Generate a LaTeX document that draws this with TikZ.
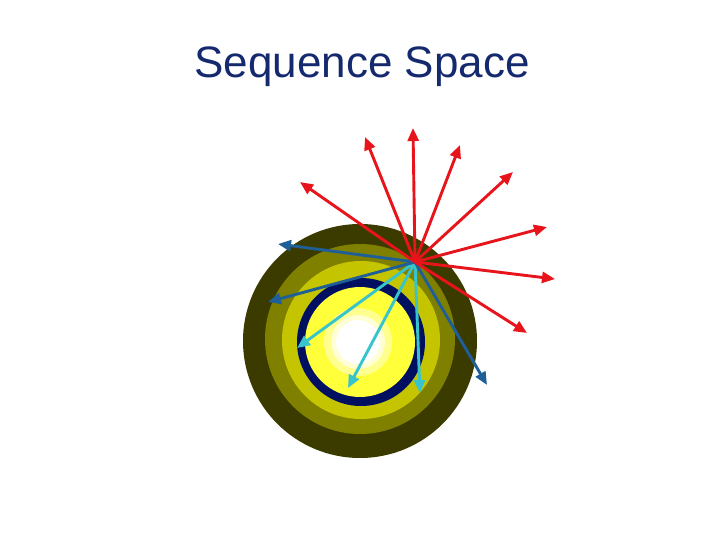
\documentclass[tikz,border=0pt]{standalone}
\usepackage{fontspec}
\setmainfont{Liberation Sans}
\usetikzlibrary{arrows.meta}

\definecolor{darkolive}{HTML}{3B3B00}
\definecolor{olive}{HTML}{808000}
\definecolor{midyellow}{HTML}{C4C400}
\definecolor{ringnavy}{HTML}{001060}
\definecolor{brightyellow}{HTML}{FFFF3A}
\definecolor{paleyellow}{HTML}{FFFF90}
\definecolor{arrowred}{HTML}{E8141C}
\definecolor{arrowblue}{HTML}{1F5F98}
\definecolor{arrowcyan}{HTML}{38C4CC}
\definecolor{titlenavy}{HTML}{14296E}

\tikzset{
  move/.style={line width=2.9pt, -{Triangle[length=13pt,width=11pt]}},
  redmove/.style={move, draw=arrowred, arrowred},
  bluemove/.style={move, draw=arrowblue, arrowblue},
  cyanmove/.style={move, draw=arrowcyan, arrowcyan}
}

\begin{document}
\begin{tikzpicture}[x=1pt,y=-1pt]
        \useasboundingbox (0,0) rectangle (720,540);

        \node[anchor=base, text=titlenavy, font=\fontsize{44}{52}\selectfont] (title) at (362,78) {Sequence Space};

        % rings of the fitness landscape
        \fill[darkolive]    (360,341) circle (117);
        \fill[olive]        (360,339) circle (95);
        \fill[midyellow]    (361,340) circle (79);
        \fill[ringnavy]     (361,342) circle (64);
        \fill[brightyellow] (360,342) circle (55);
        \fill[paleyellow]   (358,342) circle (34);
        \fill[white!60!paleyellow] (358,342) circle (27);
        \fill[white]        (358,342) circle (22);

        \begin{scope}[every node/.style={inner sep=0pt}]
          \coordinate (hub) at (415,262);
          \coordinate (r1) at (300,182);
          \coordinate (r2) at (365,137);
          \coordinate (r3) at (413,128);
          \coordinate (r4) at (460,145);
          \coordinate (r5) at (513,172);
          \coordinate (r6) at (547,227);
          \coordinate (r7) at (555,279);
          \coordinate (r8) at (527,333);
          \coordinate (b1) at (278,244);
          \coordinate (b2) at (268,302);
          \coordinate (b3) at (487,385);
          \coordinate (c1) at (297,348);
          \coordinate (c2) at (348,388);
          \coordinate (c3) at (420,393);
        \end{scope}

        \draw[cyanmove] (hub) -- (c1);
        \draw[cyanmove] (hub) -- (c2);
        \draw[cyanmove] (hub) -- (c3);
        \draw[bluemove] (hub) -- (b1);
        \draw[bluemove] (hub) -- (b2);
        \draw[bluemove] (hub) -- (b3);

        \foreach \r in {r1,r2,r3,r4,r5,r6,r7,r8}
          \draw[redmove] (hub) -- (\r);

\end{tikzpicture}
\end{document}
